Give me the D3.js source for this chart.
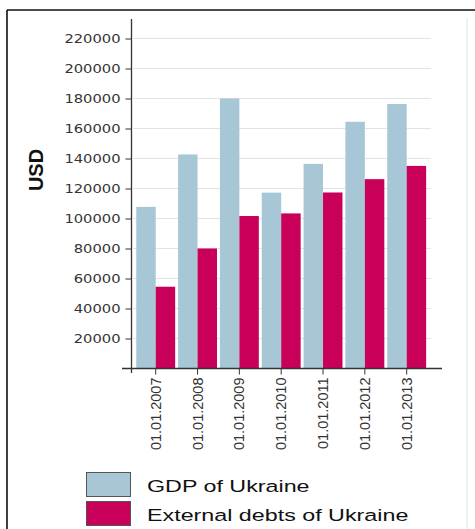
<!DOCTYPE html>
<html><head><meta charset="utf-8">
<script src="https://cdn.jsdelivr.net/npm/d3@7"></script>
<style>
html,body{margin:0;padding:0;background:#fff;}
svg{display:block;}
</style></head>
<body>
<svg id="chart" width="475" height="529"></svg>
<script>
const categories = ["01.01.2007","01.01.2008","01.01.2009","01.01.2010","01.01.2011","01.01.2012","01.01.2013"];
const gdpValues = [107753, 142719, 179992, 117228, 136419, 164500, 176309];
const debtValues = [54512, 80000, 101654, 103396, 117343, 126236, 135065];
const seriesNames = ["GDP of Ukraine", "External debts of Ukraine"];
const yTicks = [20000,40000,60000,80000,100000,120000,140000,160000,180000,200000,220000];
const yLabel = "USD";

const colors = ["#a7c7d7", "#c9005a"];
const svg = d3.select("#chart");

// frame
svg.append("line").attr("x1",7).attr("x2",475).attr("y1",10).attr("y2",10).attr("stroke","#111").attr("stroke-width",1.6);
svg.append("line").attr("x1",7).attr("x2",7).attr("y1",10).attr("y2",529).attr("stroke","#111").attr("stroke-width",1.6);
svg.append("line").attr("x1",467).attr("x2",467).attr("y1",18).attr("y2",529).attr("stroke","#e2e2e2").attr("stroke-width",1);

const x0 = d3.scaleBand().domain(categories).range([134.8, 427.6]).paddingInner(0.07).paddingOuter(0.035);
const x1 = d3.scaleBand().domain([0,1]).range([0, x0.bandwidth()]);
const y = d3.scaleLinear().domain([0, 220000]).range([368.5, 38.5]);

// gridlines
svg.append("g").selectAll("line").data(yTicks).join("line")
  .attr("x1",133).attr("x2",431)
  .attr("y1",d=>y(d)).attr("y2",d=>y(d))
  .attr("stroke","#e3e3e3").attr("stroke-width",1);

// bars
const rows = categories.map((c,i)=>({cat:c, vals:[gdpValues[i], debtValues[i]]}));
const grp = svg.append("g").selectAll("g").data(rows).join("g")
  .attr("transform", d=>`translate(${x0(d.cat)},0)`);
grp.selectAll("rect").data(d=>d.vals.map((v,k)=>({v,k}))).join("rect")
  .attr("x", d=>x1(d.k)).attr("width", x1.bandwidth())
  .attr("y", d=>y(d.v)).attr("height", d=>y(0)-y(d.v))
  .attr("fill", d=>colors[d.k]);

// y axis
const yAxis = svg.append("g").attr("transform","translate(131.5,0)")
  .call(d3.axisLeft(y).tickValues(yTicks).tickFormat(d3.format("d")).tickSize(6).tickSizeOuter(0));
yAxis.select(".domain").remove();
yAxis.selectAll(".tick line").attr("stroke","#333");
yAxis.selectAll(".tick text")
  .attr("x",0).attr("dy","0.36em")
  .attr("transform","translate(-11,0) scale(1.28,1)")
  .attr("font-family","'DejaVu Sans', Verdana, sans-serif").attr("font-size",11.5).attr("fill","#333");
svg.append("line").attr("x1",131.5).attr("x2",131.5).attr("y1",19).attr("y2",373).attr("stroke","#333").attr("stroke-width",1.3);

// x axis
const xAxis = svg.append("g").attr("transform","translate(0,368.5)")
  .call(d3.axisBottom(x0).tickSize(6).tickSizeOuter(0));
xAxis.select(".domain").remove();
xAxis.selectAll(".tick line").attr("stroke","#333");
xAxis.selectAll(".tick text")
  .attr("transform","rotate(-90)").attr("x",-9).attr("y",0).attr("dy","0.35em")
  .style("text-anchor","end")
  .attr("font-family","'Liberation Sans', Arial, sans-serif").attr("font-size",14.5).attr("fill","#333");
svg.append("line").attr("x1",122).attr("x2",442).attr("y1",368.5).attr("y2",368.5).attr("stroke","#333").attr("stroke-width",1.3);

// y label
svg.append("text").attr("transform","translate(43,170) rotate(-90)")
  .attr("text-anchor","middle")
  .attr("font-family","'Liberation Sans', Arial, sans-serif").attr("font-weight","bold").attr("font-size",20).attr("fill","#111")
  .text(yLabel);

// legend
const leg = svg.append("g").selectAll("g").data(seriesNames).join("g")
  .attr("transform",(d,i)=>`translate(86,${472 + i*29})`);
leg.append("rect").attr("x",0.5).attr("y",0.5).attr("width",44).attr("height",24)
  .attr("fill",(d,i)=>colors[i]).attr("stroke","#555").attr("stroke-width",1);
leg.append("text").attr("transform","translate(61,20) scale(1.37,1)")
  .attr("font-family","'Liberation Sans', Arial, sans-serif").attr("font-size",17).attr("fill","#111")
  .text(d=>d);
</script>
</body></html>
